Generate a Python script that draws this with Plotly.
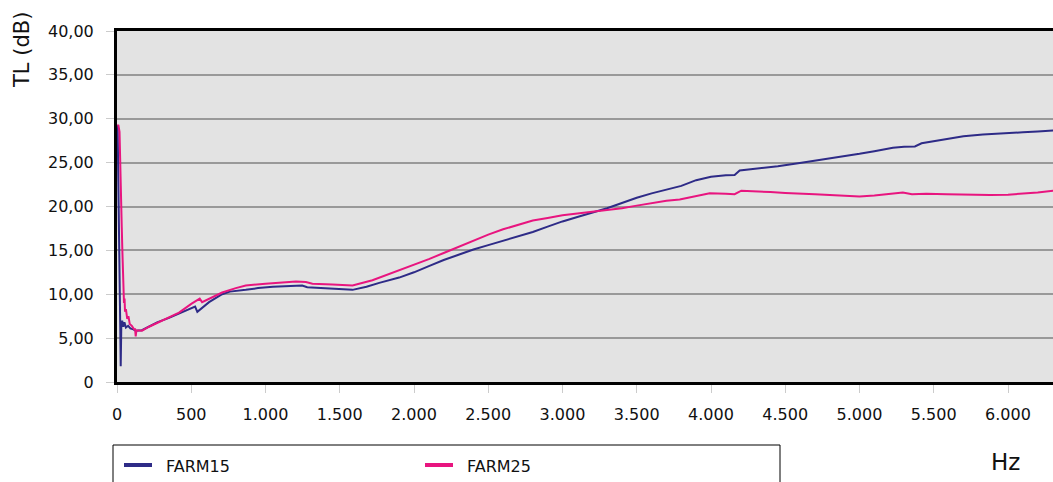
import plotly.graph_objects as go

# ---- data ----
farm15_hz = [4, 12, 18, 22, 25, 29, 35, 42, 50, 60, 75, 90, 110, 126, 168, 216, 270,
             350, 418, 480, 526, 541, 580, 620, 708, 760, 867, 950, 1050, 1150, 1247, 1281, 1400,
             1496, 1586, 1680, 1766, 1900, 2000, 2100, 2200, 2300, 2400, 2500, 2600, 2700, 2800, 2900,
             3000, 3100, 3200, 3300, 3400, 3500, 3600, 3700, 3800, 3900, 4000, 4100, 4159, 4193, 4250,
             4330, 4450, 4598, 4700, 4800, 4935, 5000, 5100, 5225, 5300, 5373, 5418, 5500, 5609, 5700,
             5831, 5900, 6000, 6100, 6200, 6303, 6400]
farm15_db = [29.3, 15.0, 10.1, 6.0, 1.8, 6.5, 7.0, 6.3, 6.8, 6.2, 6.4, 6.1, 6.0, 5.85, 5.9, 6.3, 6.8,
             7.3, 7.8, 8.3, 8.6, 8.0, 8.5, 9.1, 10.0, 10.3, 10.5, 10.7, 10.85, 10.95, 11.0, 10.8, 10.7,
             10.6, 10.5, 10.85, 11.3, 11.9, 12.5, 13.2, 13.9, 14.5, 15.1, 15.6, 16.1,
             16.6, 17.1, 17.7, 18.3, 18.8, 19.3, 19.8, 20.4, 21.0, 21.5, 21.95, 22.35, 23.0, 23.4, 23.55,
             23.6, 24.1, 24.2, 24.35, 24.6, 24.95, 25.2, 25.45, 25.8, 26.0, 26.3, 26.7, 26.8, 26.85, 27.2,
             27.45, 27.8, 28.0, 28.2, 28.25, 28.35, 28.45, 28.55, 28.65, 28.75]

farm25_hz = [4, 9, 17, 22, 25, 28, 32, 36, 40, 44, 47, 51, 54, 60, 69, 77, 86, 100, 115, 122, 126, 131,
             168, 216, 283, 350, 418, 500, 557, 573, 640, 708, 800, 867, 1000, 1100, 1205, 1272, 1316,
             1450, 1586, 1720, 1800, 1900, 2000, 2100, 2200, 2300, 2400, 2500, 2600, 2700, 2800, 2900,
             3000, 3100, 3200, 3300, 3400, 3500, 3600, 3700, 3789, 3900, 3991, 4100, 4159, 4204, 4300,
             4400, 4500, 4598, 4700, 4800, 4935, 5000, 5100, 5200, 5292, 5353, 5450, 5587, 5700, 5879,
             6000, 6100, 6200, 6303, 6400]
farm25_db = [29.2, 29.3, 28.5, 24.0, 20.0, 21.0, 17.7, 15.0, 13.5, 11.0, 9.0, 9.5, 8.0, 8.3, 7.2, 7.5,
             6.6, 6.4, 6.0, 6.0, 5.2, 5.9, 5.85, 6.3, 6.8, 7.3, 7.9, 8.9, 9.5, 9.1, 9.6, 10.2, 10.7, 11.0,
             11.2, 11.35, 11.46, 11.4, 11.2, 11.1, 11.0, 11.6, 12.1, 12.7, 13.4, 14.0, 14.7, 15.4, 16.1,
             16.8, 17.4, 17.9, 18.4, 18.7, 19.0, 19.2, 19.4, 19.6, 19.8, 20.1, 20.4, 20.65, 20.8, 21.2,
             21.5, 21.45, 21.4, 21.8, 21.75, 21.65, 21.55, 21.5, 21.4, 21.3, 21.2, 21.15, 21.25, 21.4,
             21.6, 21.4, 21.45, 21.4, 21.35, 21.3, 21.35, 21.45, 21.6, 21.8, 22.0]

x_tickvals = [0, 500, 1000, 1500, 2000, 2500, 3000, 3500, 4000, 4500, 5000, 5500, 6000]
x_ticktext = ["0", "500", "1.000", "1.500", "2.000", "2.500", "3.000", "3.500", "4.000", "4.500",
              "5.000", "5.500", "6.000"]
y_tickvals = [0, 5, 10, 15, 20, 25, 30, 35, 40]
y_ticktext = ["0", "5,00", "10,00", "15,00", "20,00", "25,00", "30,00", "35,00", "40,00"]

series_names = ["FARM15", "FARM25"]
series_colors = ["#2E2B87", "#E8157F"]

FONT = "DejaVu Sans"

fig = go.Figure()
fig.add_trace(go.Scatter(x=farm15_hz, y=farm15_db, mode="lines", name=series_names[0],
                         line=dict(color=series_colors[0], width=2), showlegend=False))
fig.add_trace(go.Scatter(x=farm25_hz, y=farm25_db, mode="lines", name=series_names[1],
                         line=dict(color=series_colors[1], width=2), showlegend=False))

W, H = 1053, 482
L, T, B, R = 117, 31, 100, 0
pw, ph = W - L - R, H - T - B

def px2paper_x(px):
    return (px - L) / pw

def px2paper_y(py):
    return (H - B - py) / ph

# manual legend (box, line keys, labels)
shapes = [dict(type="rect", xref="paper", yref="paper",
               x0=px2paper_x(113), x1=px2paper_x(780),
               y0=px2paper_y(520), y1=px2paper_y(445),
               line=dict(color="black", width=1), fillcolor="rgba(0,0,0,0)")]
annotations = []
key_x = [124, 425]
for name, color, kx in zip(series_names, series_colors, key_x):
    shapes.append(dict(type="line", xref="paper", yref="paper",
                       x0=px2paper_x(kx), x1=px2paper_x(kx + 28),
                       y0=px2paper_y(465), y1=px2paper_y(465),
                       line=dict(color=color, width=4)))
    annotations.append(dict(text=name, xref="paper", yref="paper",
                            x=px2paper_x(kx + 40), y=px2paper_y(466), showarrow=False,
                            xanchor="left", yanchor="middle",
                            font=dict(family=FONT, size=16, color="#111111")))

annotations += [
    dict(text="TL (dB)", textangle=-90, xref="paper", yref="paper",
         x=px2paper_x(22), y=px2paper_y(50), showarrow=False,
         xanchor="center", yanchor="middle",
         font=dict(family=FONT, size=21, color="#111111")),
    dict(text="Hz", xref="paper", yref="paper",
         x=px2paper_x(1005), y=px2paper_y(462), showarrow=False,
         xanchor="center", yanchor="middle",
         font=dict(family=FONT, size=23, color="#111111")),
]

fig.update_layout(
    width=W, height=H,
    margin=dict(l=L, r=R, t=T, b=B, autoexpand=False),
    paper_bgcolor="white",
    plot_bgcolor="#E3E3E3",
    font=dict(family=FONT, size=16, color="#111111"),
    showlegend=False,
    xaxis=dict(range=[0, 6303], tickvals=x_tickvals, ticktext=x_ticktext,
               showgrid=False, zeroline=False, automargin=False,
               showline=True, linecolor="black", linewidth=3, mirror=True,
               ticks="outside", ticklen=8, tickcolor="#CCCCCC", tickwidth=1,
               ticklabelstandoff=8,
               tickfont=dict(family=FONT, size=16, color="#111111")),
    yaxis=dict(range=[0, 40], tickvals=y_tickvals, ticktext=y_ticktext,
               showgrid=True, gridcolor="#999999", gridwidth=2, zeroline=False,
               automargin=False,
               showline=True, linecolor="black", linewidth=3,
               ticks="outside", ticklen=8, tickcolor="#CCCCCC", tickwidth=1,
               ticklabelstandoff=9,
               tickfont=dict(family=FONT, size=16, color="#111111")),
    shapes=shapes,
    annotations=annotations,
)

fig.write_html("out.html", config={"displayModeBar": False},
               post_script="document.body.style.margin='0px';document.body.style.overflow='hidden';")
